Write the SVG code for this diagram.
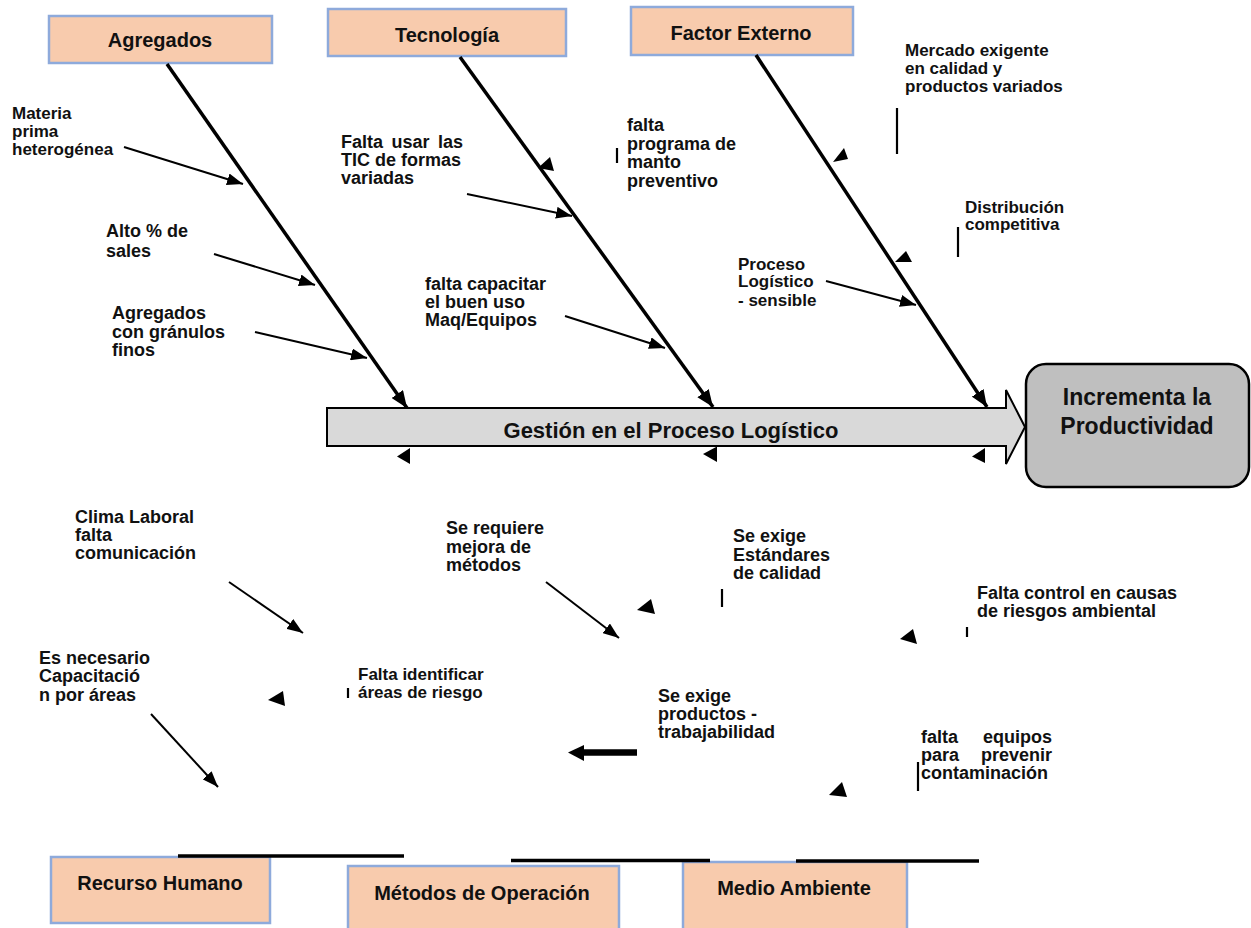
<svg xmlns="http://www.w3.org/2000/svg" width="1251" height="928" viewBox="0 0 1251 928">
<style>
text{font-family:"Liberation Sans",Arial,sans-serif;font-weight:bold;fill:#111}
.t{font-size:20px;text-anchor:middle}
.s{font-size:18px}
.c{font-size:17px}
.cat{fill:#F8CBAD;stroke:#8EAADB;stroke-width:2.5}
.bone{stroke:#000;stroke-width:3.5;fill:none}
.sub{stroke:#000;stroke-width:2;fill:none}
.bar{stroke:#000;stroke-width:2.2}
.hl{stroke:#000;stroke-width:3.5}
.tri{fill:#000}
</style>
<defs>
<marker id="big" markerUnits="userSpaceOnUse" markerWidth="17" markerHeight="14" refX="17" refY="7" orient="auto"><path d="M0,0 L17,7 L0,14 z" fill="#000"/></marker>
<marker id="small" markerUnits="userSpaceOnUse" markerWidth="16" markerHeight="12" refX="16" refY="6" orient="auto"><path d="M0,0 L16,6 L0,12 z" fill="#000"/></marker>
</defs>
<rect width="1251" height="928" fill="#fff"/>

<g id="spine">
<polygon points="327,408 1006,408 1006,390 1025,427 1006,464 1006,446 327,446" fill="#D9D9D9" stroke="#000" stroke-width="2"/>
<text x="671" y="438" font-size="22" text-anchor="middle">Gestión en el Proceso Logístico</text>
</g>

<g id="effect">
<rect x="1026" y="364" width="223" height="123" rx="20" fill="#BFBFBF" stroke="#000" stroke-width="2.5"/>
<text x="1137" y="405" font-size="23" text-anchor="middle">Incrementa la</text>
<text x="1137" y="434" font-size="23" text-anchor="middle">Productividad</text>
</g>

<g id="cat-agregados"><rect class="cat" x="49" y="16" width="223" height="47"/><text class="t" x="160" y="47">Agregados</text></g>
<g id="cat-tecnologia"><rect class="cat" x="328" y="9" width="238" height="47"/><text class="t" x="447" y="42">Tecnología</text></g>
<g id="cat-factor"><rect class="cat" x="631" y="7" width="222" height="48"/><text class="t" x="741" y="40">Factor Externo</text></g>
<g id="cat-recurso"><rect class="cat" x="51" y="857" width="219" height="66"/><text class="t" x="160" y="890">Recurso Humano</text></g>
<g id="cat-metodos"><rect class="cat" x="348" y="866" width="271" height="70"/><text class="t" x="482" y="900" font-size="21">Métodos de Operación</text></g>
<g id="cat-medio"><rect class="cat" x="683" y="862" width="224" height="74"/><text class="t" x="794" y="895">Medio Ambiente</text></g>

<g id="connectors">
<line class="bone" x1="167" y1="64" x2="407" y2="408" marker-end="url(#big)"/>
<line class="bone" x1="460" y1="57" x2="713" y2="407" marker-end="url(#big)"/>
<line class="bone" x1="756" y1="55" x2="987" y2="407" marker-end="url(#big)"/>

<line class="sub" x1="124" y1="147" x2="243" y2="184" marker-end="url(#small)"/>
<line class="sub" x1="214" y1="254" x2="315" y2="285" marker-end="url(#small)"/>
<line class="sub" x1="255" y1="332" x2="367" y2="358" marker-end="url(#small)"/>
<line class="sub" x1="467" y1="194" x2="572" y2="216" marker-end="url(#small)"/>
<line class="sub" x1="565" y1="316" x2="665" y2="348" marker-end="url(#small)"/>
<line class="sub" x1="826" y1="281" x2="916" y2="305" marker-end="url(#small)"/>

<line class="sub" x1="229" y1="582" x2="303" y2="633" marker-end="url(#small)"/>
<line class="sub" x1="151" y1="714" x2="218" y2="787" marker-end="url(#small)"/>
<line class="sub" x1="546" y1="582" x2="619" y2="638" marker-end="url(#small)"/>
<line x1="637" y1="752.5" x2="583" y2="752.5" stroke="#000" stroke-width="6.5"/>
<polygon class="tri" points="584,745 568,752.5 584,761"/>

<polygon class="tri" points="538,168 550,157 554,171"/>
<polygon class="tri" points="833,162 844,148 848,159"/>
<polygon class="tri" points="895,262 906,251 912,262"/>
<polygon class="tri" points="397,456.5 410,448 410,464"/>
<polygon class="tri" points="703,454 717,446.5 717,462"/>
<polygon class="tri" points="972,456.5 985,448 985,463"/>
<polygon class="tri" points="268,700 283,691 285,706"/>
<polygon class="tri" points="637,610 651,599 655,614"/>
<polygon class="tri" points="900,639 913,629 917,644"/>
<polygon class="tri" points="829,795 842,782 847,797"/>

<line class="bar" x1="617" y1="148" x2="617" y2="163"/>
<line class="bar" x1="897" y1="108" x2="897" y2="154"/>
<line class="bar" x1="958" y1="227" x2="958" y2="257"/>
<line class="bar" x1="348" y1="688" x2="348" y2="698"/>
<line class="bar" x1="722" y1="589" x2="722" y2="607"/>
<line class="bar" x1="967" y1="627" x2="967" y2="637"/>
<line class="bar" x1="918" y1="762" x2="918" y2="791"/>

<line class="hl" x1="178" y1="856" x2="404" y2="856"/>
<line class="hl" x1="511" y1="860.5" x2="710" y2="860.5"/>
<line class="hl" x1="796" y1="861" x2="979" y2="861"/>
</g>

<g id="cause-materia"><text class="c"><tspan x="12" y="119">Materia</tspan><tspan x="12" y="137">prima</tspan><tspan x="12" y="155">heterogénea</tspan></text></g>
<g id="cause-alto"><text class="s"><tspan x="106" y="237">Alto % de</tspan><tspan x="106" y="257">sales</tspan></text></g>
<g id="cause-granulos"><text class="s"><tspan x="112" y="319">Agregados</tspan><tspan x="112" y="338">con gránulos</tspan><tspan x="112" y="356">finos</tspan></text></g>
<g id="cause-tic"><text class="s"><tspan x="341" y="148" word-spacing="3.5">Falta usar las</tspan><tspan x="341" y="166">TIC de formas</tspan><tspan x="341" y="184">variadas</tspan></text></g>
<g id="cause-manto"><text class="s"><tspan x="627" y="131">falta</tspan><tspan x="627" y="150">programa de</tspan><tspan x="627" y="168">manto</tspan><tspan x="627" y="187">preventivo</tspan></text></g>
<g id="cause-capacitar"><text class="s"><tspan x="425" y="290">falta capacitar</tspan><tspan x="425" y="308">el buen uso</tspan><tspan x="425" y="326">Maq/Equipos</tspan></text></g>
<g id="cause-mercado"><text class="c"><tspan x="905" y="56">Mercado exigente</tspan><tspan x="905" y="74">en calidad y</tspan><tspan x="905" y="92">productos variados</tspan></text></g>
<g id="cause-distribucion"><text class="c"><tspan x="965" y="213">Distribución</tspan><tspan x="965" y="230">competitiva</tspan></text></g>
<g id="cause-proceso"><text class="c"><tspan x="738" y="270">Proceso</tspan><tspan x="738" y="287">Logístico</tspan><tspan x="738" y="306">- sensible</tspan></text></g>

<g id="cause-clima"><text class="s"><tspan x="75" y="523">Clima Laboral</tspan><tspan x="75" y="541">falta</tspan><tspan x="75" y="559">comunicación</tspan></text></g>
<g id="cause-capacitacion"><text class="s"><tspan x="39" y="664">Es necesario</tspan><tspan x="39" y="682">Capacitació</tspan><tspan x="39" y="701">n por áreas</tspan></text></g>
<g id="cause-riesgo"><text class="c"><tspan x="358" y="680">Falta identificar</tspan><tspan x="358" y="698">áreas de riesgo</tspan></text></g>
<g id="cause-metodos"><text class="s"><tspan x="446" y="534">Se requiere</tspan><tspan x="446" y="553">mejora de</tspan><tspan x="446" y="571">métodos</tspan></text></g>
<g id="cause-estandares"><text class="s"><tspan x="733" y="542">Se exige</tspan><tspan x="733" y="561">Estándares</tspan><tspan x="733" y="579">de calidad</tspan></text></g>
<g id="cause-productos"><text class="s"><tspan x="658" y="702">Se exige</tspan><tspan x="658" y="720">productos -</tspan><tspan x="658" y="738">trabajabilidad</tspan></text></g>
<g id="cause-control"><text class="s"><tspan x="977" y="599">Falta control en causas</tspan><tspan x="977" y="617">de riesgos ambiental</tspan></text></g>
<g id="cause-equipos"><text class="s"><tspan x="921" y="743" word-spacing="20">falta equipos</tspan><tspan x="921" y="761" word-spacing="17">para prevenir</tspan><tspan x="921" y="779">contaminación</tspan></text></g>
</svg>
